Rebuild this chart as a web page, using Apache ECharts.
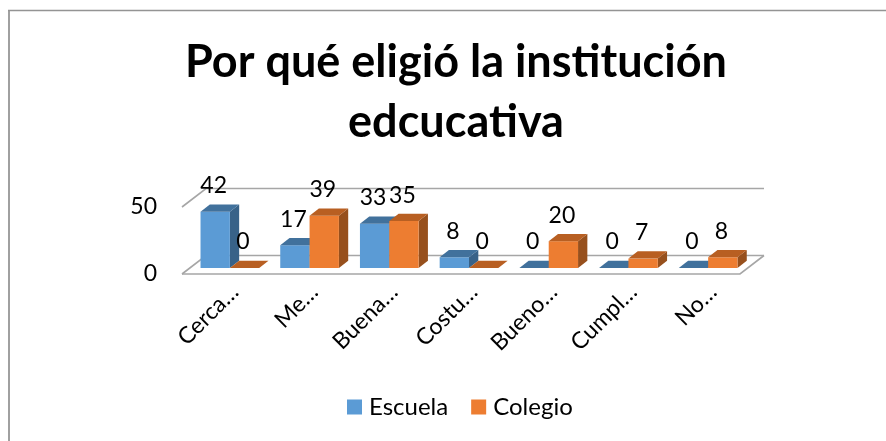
<!DOCTYPE html>
<html>
<head>
<meta charset="utf-8">
<style>
  html, body { margin: 0; padding: 0; background: #fff; }
  #main { width: 886px; height: 441px; }
</style>
<script src="https://cdn.jsdelivr.net/npm/echarts@6/dist/echarts.min.js"></script>
</head>
<body>
<div id="main"></div>
<script>
const categories = ['Cerca…', 'Me…', 'Buena…', 'Costu…', 'Bueno…', 'Cumpl…', 'No…']
const escuela = [42, 17, 33, 8, 0, 0, 0]
const colegio = [0, 39, 35, 0, 20, 7, 8]
const yTicks = [0, 50]

const FONT = 'Lato, Carlito, "Open Sans", sans-serif'
const colors = {
  Escuela: { front: '#5b9bd5', top: '#41719c', side: '#386288' },
  Colegio: { front: '#ed7d31', top: '#b85f22', side: '#97501d' }
}
// depth of the floor and of the bars, in px
const floorDx = 24, floorDy = -18.5
const barDx = 9.3, barDy = -7.3
const shiftX = 8, shiftY = -6

function poly (points, fill) {
  return { type: 'polygon', shape: { points }, style: { fill, stroke: null } }
}

function barSeries (name, values, side) {
  const c = colors[name]
  return {
    name,
    type: 'custom',
    z: side === -1 ? 3 : 4,
    data: values.map((v, i) => [i, v]),
    renderItem (params, api) {
      const w = api.size([1, 0])[0] * 0.368
      const base = api.coord([api.value(0), 0])
      const top = api.coord([api.value(0), api.value(1)])
      const x0 = base[0] + shiftX + (side === -1 ? -w : 0)
      const x1 = x0 + w
      const y0 = base[1] + shiftY
      const y1 = top[1] + shiftY
      const children = []
      if (api.value(1) > 0) {
        children.push(poly([[x1, y0], [x1 + barDx, y0 + barDy], [x1 + barDx, y1 + barDy], [x1, y1]], c.side))
        children.push(poly([[x0, y0], [x1, y0], [x1, y1], [x0, y1]], c.front))
      }
      children.push(poly([[x0, y1], [x1, y1], [x1 + barDx, y1 + barDy], [x0 + barDx, y1 + barDy]], c.top))
      children.push({
        type: 'text',
        style: {
          text: String(api.value(1)),
          x: (x0 + x1) / 2 - 1.5,
          y: y1 - 26,
          align: 'center',
          verticalAlign: 'middle',
          font: '23px ' + FONT,
          fill: '#000'
        }
      })
      return { type: 'group', children }
    }
  }
}

// back wall lines and floor, drawn from the value axis
const wallSeries = {
  type: 'custom',
  z: 1,
  silent: true,
  data: yTicks.map(v => [v]),
  encode: { y: 0 },
  renderItem (params, api) {
    const v = api.value(0)
    const y = api.coord([0, v])[1]
    const left = [params.coordSys.x, y]
    const right = [params.coordSys.x + params.coordSys.width, y]
    const line = { stroke: '#a6a6a6', lineWidth: 1.6, fill: null }
    const children = [
      { type: 'polyline', shape: { points: [left, [left[0] + floorDx, left[1] + floorDy], [right[0] + floorDx, right[1] + floorDy]] }, style: line }
    ]
    if (v === 0) {
      children.push({ type: 'polyline', shape: { points: [left, right, [right[0] + floorDx, right[1] + floorDy]] }, style: line })
    }
    return { type: 'group', children }
  }
}

const chart = echarts.init(document.getElementById('main'), null, { renderer: 'canvas' })
chart.setOption({
  animation: false,
  backgroundColor: '#fff',
  graphic: [
    { type: 'line', silent: true, shape: { x1: 9, y1: 10, x2: 9, y2: 441 }, style: { stroke: '#a0a0a0', lineWidth: 2 } },
    { type: 'line', silent: true, shape: { x1: 8, y1: 10.5, x2: 886, y2: 10.5 }, style: { stroke: '#949494', lineWidth: 1.5 } }
  ],
  title: {
    text: 'Por qué eligió la institución\nedcucativa',
    left: 451,
    top: 27,
    textAlign: 'center',
    textStyle: { fontFamily: FONT, fontSize: 45, fontWeight: 'bold', color: '#000', lineHeight: 60 }
  },
  legend: {
    left: 347,
    top: 395,
    padding: 0,
    itemWidth: 15,
    itemHeight: 15,
    itemGap: 23,
    icon: 'rect',
    data: [
      { name: 'Escuela', itemStyle: { color: colors.Escuela.front } },
      { name: 'Colegio', itemStyle: { color: colors.Colegio.front } }
    ],
    textStyle: { fontFamily: FONT, fontSize: 24, color: '#000', padding: [0, 0, 0, 2] }
  },
  grid: { left: 182, right: 146, top: 207, bottom: 167 },
  xAxis: {
    type: 'category',
    data: categories,
    axisLine: { show: false },
    axisTick: { show: false },
    axisLabel: { rotate: 45, interval: 0, margin: 27, fontFamily: FONT, fontSize: 23, color: '#000', padding: [0, -18, 0, 0] }
  },
  yAxis: {
    type: 'value',
    min: 0,
    max: 50,
    interval: 50,
    axisLine: { show: false },
    axisTick: { show: false },
    splitLine: { show: false },
    axisLabel: { margin: 25, fontFamily: FONT, fontSize: 23, color: '#000', padding: [2, 0, 0, 0] }
  },
  series: [wallSeries, barSeries('Escuela', escuela, -1), barSeries('Colegio', colegio, 1)]
})
</script>
</body>
</html>
